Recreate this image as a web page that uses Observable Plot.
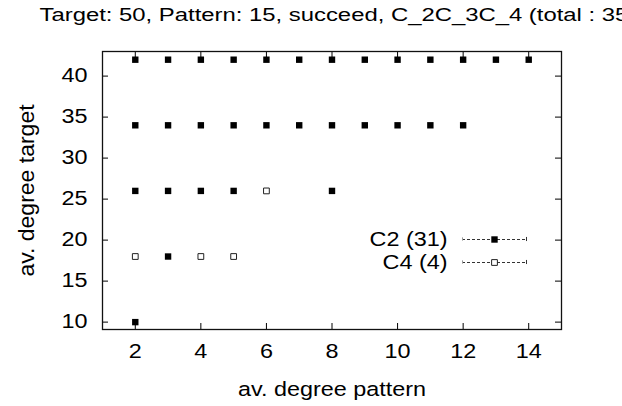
<!DOCTYPE html>
<html>
<head>
<meta charset="utf-8">
<script src="https://cdn.jsdelivr.net/npm/d3@7"></script>
<script src="https://cdn.jsdelivr.net/npm/@observablehq/plot@0.6"></script>
<style>
  html, body { margin: 0; padding: 0; background: #fff; }
  #chart svg { display: block; }
</style>
</head>
<body>
<div id="chart"></div>
<script>
// ---- data ----
const titleText = "Target: 50, Pattern: 15, succeed, C_2C_3C_4 (total : 35)";
const xLabel = "av. degree pattern";
const yLabel = "av. degree target";
const targetLevels = [42, 34, 26, 18, 10];
const c2PatternByLevel = [
  [2, 3, 4, 5, 6, 7, 8, 9, 10, 11, 12, 13, 14],
  [2, 3, 4, 5, 6, 7, 8, 9, 10, 11, 12],
  [2, 3, 4, 5, 8],
  [3],
  [2]
];
const c4PatternByLevel = [
  [],
  [],
  [6],
  [2, 4, 5],
  []
];
const seriesNames = ["C2 (31)", "C4 (4)"];
const xTicks = [2, 4, 6, 8, 10, 12, 14];
const yTicks = [10, 15, 20, 25, 30, 35, 40];

// ---- build tables ----
const c2 = c2PatternByLevel.flatMap((xs, i) => xs.map(x => ({x, y: targetLevels[i]})));
const c4 = c4PatternByLevel.flatMap((xs, i) => xs.map(x => ({x, y: targetLevels[i]})));

// ---- layout ----
const W = 622, H = 406;
const mL = 102, mR = 61, mT = 51, mB = 77;
const xDom = [1, 15], yDom = [9.1, 43];
const xUnit = (W - mL - mR) / (xDom[1] - xDom[0]);
const yUnit = (H - mT - mB) / (yDom[1] - yDom[0]);
const tickLenX = 6 / yUnit;
const tickLenY = 6 / xUnit;
const pxToX = px => xDom[0] + (px - mL) / xUnit;
const pxToY = py => yDom[1] - (py - mT) / yUnit;
const FONT = "'Liberation Sans', Arial, Helvetica, sans-serif";
const FS = 19.5;
const STRETCH = 1.2;        // glyph stretch along the writing direction
const TITLE_STRETCH = 1.29;
const SQ = 6.4 / Math.sqrt(Math.PI);

// legend geometry (pixels)
const legTextRightX = pxToX(447);
const legY = [239, 262].map(pxToY);
const legLineX1 = pxToX(462), legLineX2 = pxToX(526), legMarkX = pxToX(494);

const plot = Plot.plot({
  width: W, height: H,
  marginLeft: mL, marginRight: mR, marginTop: mT, marginBottom: mB,
  x: {domain: xDom, axis: null},
  y: {domain: yDom, axis: null},
  style: {fontFamily: FONT, fontSize: FS + "px", color: "#000", background: "#fff", overflow: "visible"},
  marks: [
    // tick marks (inward, mirrored)
    Plot.ruleX(xTicks, {x: d => d, y1: yDom[0], y2: yDom[0] + tickLenX, stroke: "#000"}),
    Plot.ruleX(xTicks, {x: d => d, y1: yDom[1], y2: yDom[1] - tickLenX, stroke: "#000"}),
    Plot.ruleY(yTicks, {y: d => d, x1: xDom[0], x2: xDom[0] + tickLenY, stroke: "#000"}),
    Plot.ruleY(yTicks, {y: d => d, x1: xDom[1], x2: xDom[1] - tickLenY, stroke: "#000"}),
    Plot.frame({stroke: "#111", strokeWidth: 1.3}),
    // tick labels
    Plot.axisX(xTicks, {tickSize: 0, tickPadding: 15, label: null, fontSize: FS}),
    Plot.axisY(yTicks, {tickSize: 0, tickPadding: 15, label: null, fontSize: FS}),
    // axis titles
    Plot.text([xLabel], {text: d => d, frameAnchor: "bottom", dy: 66, lineAnchor: "bottom", textAnchor: "middle", fontSize: FS}),
    Plot.text([yLabel], {text: d => d, frameAnchor: "left", dx: 33 - mL, rotate: -90, lineAnchor: "bottom", textAnchor: "middle", fontSize: FS}),
    // title
    Plot.text([titleText], {text: d => d, frameAnchor: "top-left", dx: 39 - mL, dy: 20 - mT, textAnchor: "start", lineAnchor: "bottom", fontSize: 18.5}),
    // data
    Plot.dot(c2, {x: "x", y: "y", symbol: "square", r: SQ, fill: "#000", stroke: "none"}),
    Plot.dot(c4, {x: "x", y: "y", symbol: "square", r: SQ * 0.9, fill: "#fff", stroke: "#222", strokeWidth: 1}),
    // legend
    Plot.text(seriesNames, {text: d => d, x: legTextRightX, y: (d, i) => legY[i], textAnchor: "end", lineAnchor: "middle", fontSize: FS}),
    Plot.ruleY(legY, {y: d => d, x1: legLineX1, x2: legLineX2, stroke: "#333", strokeDasharray: "3,2", strokeWidth: 1}),
    Plot.ruleX(legY, {x: legLineX2, y1: d => d - 0.25, y2: d => d + 0.25, stroke: "#333"}),
    Plot.ruleX(legY, {x: legLineX1, y1: d => d - 0.2, y2: d => d + 0.2, stroke: "#999"}),
    Plot.dot([legY[0]], {x: legMarkX, y: d => d, symbol: "square", r: SQ, fill: "#000", stroke: "none"}),
    Plot.dot([legY[1]], {x: legMarkX, y: d => d, symbol: "square", r: SQ * 0.9, fill: "#fff", stroke: "#222", strokeWidth: 1})
  ]
});

// stretch glyphs along the writing direction like the reference rendering
plot.querySelectorAll("text").forEach(t => {
  const tr = t.getAttribute("transform") || "";
  const px = parseFloat(t.getAttribute("x")) || 0;
  if (tr.includes("rotate")) {
    t.setAttribute("transform", tr + ` scale(1.18,1.1)`);
  } else {
    const s = t.textContent.startsWith("Target") ? TITLE_STRETCH : STRETCH;
    t.setAttribute("transform", tr + ` translate(${px},0) scale(${s},1) translate(${-px},0)`);
  }
});
document.getElementById("chart").appendChild(plot);
</script>
</body>
</html>
